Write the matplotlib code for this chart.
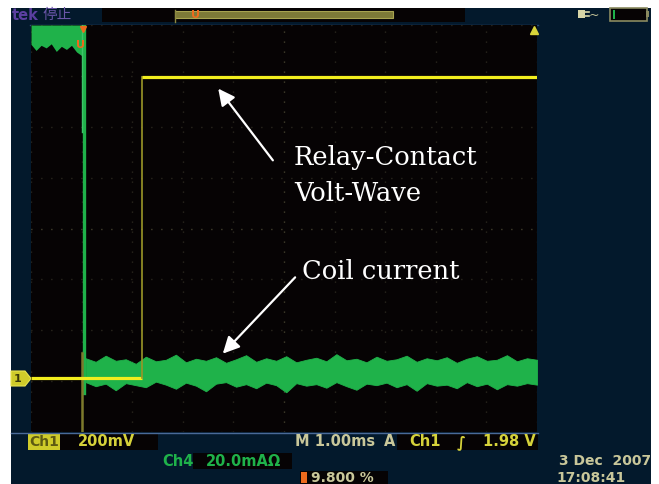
import numpy as np
import matplotlib
matplotlib.use("Agg")
import matplotlib.pyplot as plt
from matplotlib.patches import Rectangle, Polygon

# ---------------- data (scope units: time in ms, vertical in divisions) ----------------
time_per_div_ms = 1.00
t_start, t_end = -1.0, 9.0
div_lo, div_hi = -4.0, 4.0

# Ch1 (relay contact voltage), 200 mV/div
ch1_v_per_div = 0.200
ch1_ground_div = -2.93
ch1_step_time = 1.19
ch1_low_v = 0.0
ch1_high_v = 1.18

# Ch4 (coil current) – before the drop: band clipped at top, lower envelope
ch4_pre_t = [-1.0, -0.9, -0.8, -0.7, -0.6, -0.5, -0.4, -0.3, -0.2, -0.1, 0.0, 0.04]
ch4_pre_lower = [3.62, 3.50, 3.60, 3.55, 3.63, 3.48, 3.58, 3.52, 3.60, 3.47, 3.40, 3.30]
ch4_drop_time = 0.04
ch4_drop_bottom = -3.24

# Ch4 after the drop: noisy band envelope
ch4_post_t = np.linspace(0.08, 9.0, 46)
ch4_post_upper = [-2.55, -2.62, -2.50, -2.60, -2.57, -2.66, -2.52, -2.61, -2.58, -2.48,
                  -2.63, -2.56, -2.60, -2.53, -2.64, -2.57, -2.49, -2.62, -2.55, -2.60,
                  -2.51, -2.63, -2.58, -2.54, -2.61, -2.47, -2.59, -2.56, -2.63, -2.52,
                  -2.60, -2.57, -2.50, -2.62, -2.55, -2.59, -2.53, -2.64, -2.56, -2.51,
                  -2.60, -2.58, -2.49, -2.61, -2.55, -2.58]
ch4_post_lower = [-3.02, -3.10, -3.05, -3.18, -3.04, -3.08, -3.12, -3.01, -3.07, -3.15,
                  -3.03, -3.09, -3.20, -3.05, -3.02, -3.11, -3.06, -3.14, -3.03, -3.08,
                  -3.22, -3.04, -3.09, -3.06, -3.13, -3.02, -3.10, -3.17, -3.05, -3.08,
                  -3.03, -3.12, -3.06, -3.19, -3.04, -3.09, -3.07, -3.14, -3.02, -3.10,
                  -3.05, -3.16, -3.06, -3.09, -3.04, -3.07]

# trigger-position marker line (faint ch1 trace artefact)
trig_time = 0.0

# readout texts
tek_label = "tek"
status_label = "停止"
ch1_scale = "200mV"
timebase = "M 1.00ms"
trig_src = "Ch1"
trig_level = "1.98 V"
ch4_scale = "20.0mAΩ"
pct_label = "9.800 %"
date_label = "3 Dec  2007"
time_label = "17:08:41"
ann1 = "Relay-Contact\nVolt-Wave"
ann2 = "Coil current"

# ---------------- colours ----------------
NAVY = "#03192c"
SCREEN = "#060304"
YEL = "#f2ee1e"
YEL_DIM = "#9a9628"
GRN = "#1fb24a"
PALE = "#c9c79a"
ORANGE = "#ee6a1c"

W, H = 659, 484
fig = plt.figure(figsize=(W / 100, H / 100), dpi=100)
fig.patch.set_facecolor("white")

# background panel axes (pixel coordinates)
bg = fig.add_axes([0, 0, 1, 1], zorder=0)
bg.set_xlim(0, W); bg.set_ylim(H, 0); bg.axis("off")
bg.add_patch(Rectangle((11, 8), 640, 476, facecolor=NAVY, edgecolor="none"))
bg.add_patch(Rectangle((102, 8), 363, 14, facecolor=SCREEN, edgecolor="none"))
bg.add_patch(Rectangle((175, 11), 218, 7, facecolor="#7d7a38", edgecolor="#a8a450", lw=0.8))
bg.plot([175, 175], [10, 22], color="#8a8740", lw=1)
bg.text(196, 15, "U", color=ORANGE, fontsize=8, fontweight="bold", ha="center", va="center")
bg.text(12, 15, tek_label, color="#5b3fa0", fontsize=10.5, fontweight="bold", va="center")
bg.text(42, 15, status_label, color="#6a55a8", fontsize=10.5, va="center",
        family=["Noto Sans CJK SC", "DejaVu Sans"])
# battery + plug icons
bg.add_patch(Rectangle((610, 8), 37, 13, facecolor=SCREEN, edgecolor="#8a8a60", lw=1.2))
bg.add_patch(Rectangle((646, 11), 3, 6, facecolor="#8a8a60", edgecolor="none"))
bg.add_patch(Rectangle((613, 10), 2, 9, facecolor=GRN, edgecolor="none"))
bg.add_patch(Rectangle((578, 10), 7, 8, facecolor="#d8d6a8", edgecolor="none"))
bg.plot([585, 589], [12, 12], color="#d8d6a8", lw=1.2)
bg.plot([585, 589], [16, 16], color="#d8d6a8", lw=1.2)
bg.text(594, 15, "~", color=PALE, fontsize=9, ha="center", va="center")
# lines above / below the screen
bg.plot([30, 538], [24.5, 24.5], color="#2a4a78", lw=1)
bg.plot([11, 538], [432.5, 432.5], color="#4a6a98", lw=1)

# bottom readouts
bg.add_patch(Rectangle((28, 434), 32, 16, facecolor="#cfcb2a", edgecolor="none"))
bg.text(44, 442, "Ch1", color="#5d5a12", fontsize=10, fontweight="bold", ha="center", va="center")
bg.add_patch(Rectangle((60, 434), 98, 16, facecolor=SCREEN, edgecolor="none"))
bg.text(78, 442, ch1_scale, color="#d6d23a", fontsize=10.5, fontweight="bold", va="center")
bg.text(295, 442, timebase, color=PALE, fontsize=10.5, fontweight="bold", va="center")
bg.text(384, 442, "A", color=PALE, fontsize=10.5, fontweight="bold", va="center")
bg.add_patch(Rectangle((397, 434), 141, 16, facecolor=SCREEN, edgecolor="none"))
bg.text(409, 442, trig_src, color="#d6d23a", fontsize=10.5, fontweight="bold", va="center")
bg.text(457, 442, "∫", color="#d6d23a", fontsize=10.5, fontweight="bold", va="center")
bg.text(536, 442, trig_level, color="#d6d23a", fontsize=10.5, fontweight="bold",
        va="center", ha="right")
bg.text(162, 461, "Ch4", color=GRN, fontsize=10.5, fontweight="bold", va="center")
bg.add_patch(Rectangle((193, 453), 99, 16, facecolor=SCREEN, edgecolor="none"))
bg.text(206, 461, ch4_scale, color=GRN, fontsize=10.5, fontweight="bold", va="center")
bg.add_patch(Rectangle((300, 471), 88, 13, facecolor=SCREEN, edgecolor="none"))
bg.add_patch(Rectangle((301, 472), 6, 11, facecolor=ORANGE, edgecolor="none"))
bg.text(311, 478, pct_label, color=PALE, fontsize=10, fontweight="bold", va="center")
bg.text(651, 461, date_label, color=PALE, fontsize=10, fontweight="bold", va="center", ha="right")
bg.text(556, 478, time_label, color=PALE, fontsize=10, fontweight="bold", va="center")
# ch1 ground marker
bg.add_patch(Polygon([[11, 371], [25, 371], [31, 378.5], [25, 386], [11, 386]],
                     closed=True, facecolor="#cfcb2a", edgecolor="#e8e450", lw=0.8))
bg.text(18, 378.5, "1", color="#3a3808", fontsize=8, fontweight="bold", ha="center", va="center")

# ---------------- scope screen ----------------
ax = fig.add_axes([31 / W, (H - 432) / H, 506 / W, 407 / H], zorder=1)
ax.set_facecolor(SCREEN)
ax.set_xlim(t_start, t_end)
ax.set_ylim(div_lo, div_hi)
ax.set_xticks([]); ax.set_yticks([])
for s in ax.spines.values():
    s.set_visible(False)

dot = (0, (0.6, 6.6))
for k in range(11):
    x = t_start + k * time_per_div_ms
    c = "#6a6848" if k == 5 else "#403e2e"
    ax.axvline(x, color=c, lw=1.0, ls=dot, zorder=0.5)
for k in range(9):
    y = div_lo + k
    c = "#6a6848" if k == 4 else "#403e2e"
    ax.axhline(y, color=c, lw=1.0, ls=dot, zorder=0.5)

# Ch4 (green)
ax.fill_between(ch4_pre_t, ch4_pre_lower, div_hi, color=GRN, lw=0, zorder=2)
ax.plot([ch4_drop_time, ch4_drop_time], [div_hi, ch4_drop_bottom], color=GRN, lw=2.4, zorder=2)
ax.plot([ch4_drop_time - 0.04, ch4_drop_time - 0.04], [div_hi, 1.9], color="#3fc46a",
        lw=1.0, zorder=2)
ax.fill_between(ch4_post_t, ch4_post_lower, ch4_post_upper, color=GRN, lw=0.6,
                edgecolor=GRN, zorder=2)

# faint trigger artefact line
ax.plot([trig_time, trig_time], [-2.45, div_lo], color="#7d7a2c", lw=1.8, zorder=2.5)

# Ch1 (yellow)
y_low = ch1_ground_div + ch1_low_v / ch1_v_per_div
y_high = ch1_ground_div + ch1_high_v / ch1_v_per_div
ax.plot([t_start, ch1_step_time], [y_low, y_low], color=YEL, lw=2.3, zorder=3,
        solid_capstyle="butt")
ax.plot([ch1_step_time, ch1_step_time], [y_low, y_high], color=YEL_DIM, lw=1.2, zorder=3)
ax.plot([ch1_step_time, t_end], [y_high, y_high], color=YEL, lw=2.3, zorder=3,
        solid_capstyle="butt")

# markers on the screen edge
ax.plot([trig_time + 0.02], [3.93], marker="v", color=ORANGE, ms=5, zorder=4, clip_on=False)
ax.text(trig_time - 0.02, 3.6, "U", color=ORANGE, fontsize=8, fontweight="bold",
        ha="center", va="center", zorder=4)
ax.plot([8.95], [3.9], marker="^", color="#d8d43a", ms=6, zorder=4, clip_on=False)

# annotation arrows
arrow = dict(arrowstyle="-|>,head_length=1.0,head_width=0.5", color="white", lw=1.6,
             shrinkA=0, shrinkB=0)
ax.annotate("", xy=(2.70, 2.75), xytext=(3.78, 1.34), arrowprops=arrow, zorder=5)
ax.annotate("", xy=(2.79, -2.46), xytext=(4.22, -0.96), arrowprops=arrow, zorder=5)

# overlay text
ov = fig.add_axes([0, 0, 1, 1], zorder=3)
ov.set_xlim(0, W); ov.set_ylim(H, 0); ov.axis("off"); ov.patch.set_alpha(0)
ov.text(294, 145, ann1, color="white", fontsize=18.5, family="DejaVu Serif",
        va="top", ha="left", linespacing=1.55)
ov.text(302, 259, ann2, color="white", fontsize=18.5, family="DejaVu Serif",
        va="top", ha="left")

fig.savefig("out.png", dpi=100, facecolor="white")
